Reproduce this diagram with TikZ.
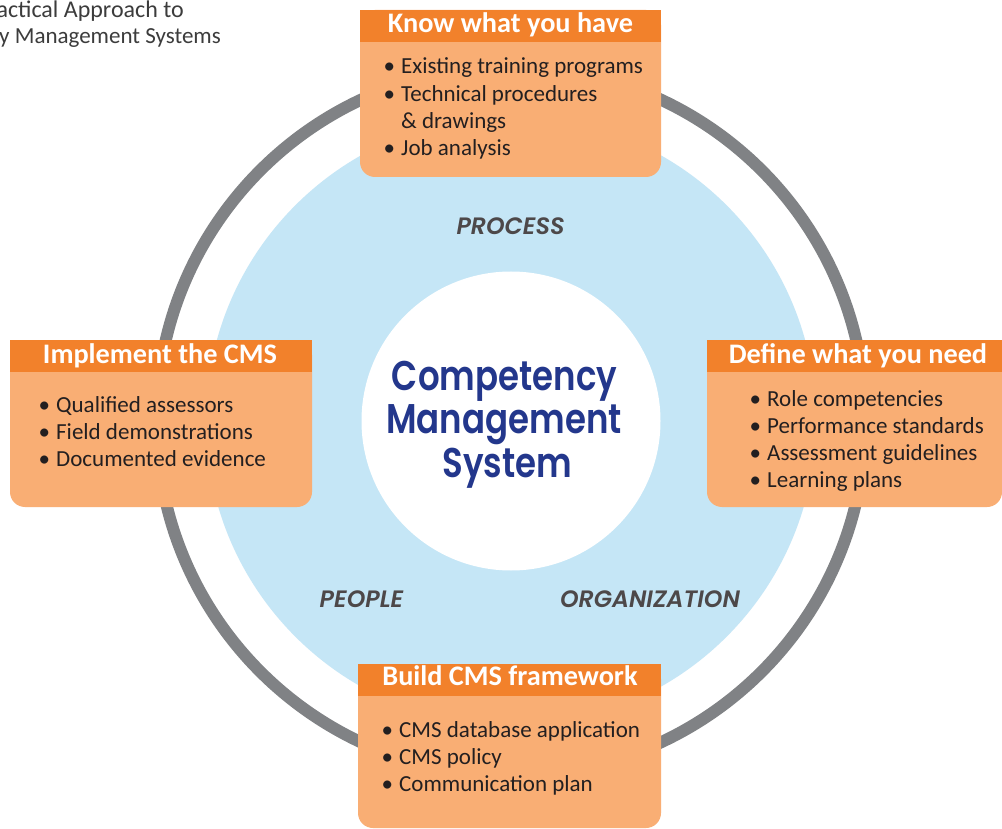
\documentclass[tikz,border=0pt]{standalone}
\usepackage{fontspec}
\setmainfont{Carlito}
\newfontfamily\popsb{Poppins SemiBold}[ItalicFont={Poppins SemiBold Italic}]
\definecolor{headorange}{HTML}{F2812B}
\definecolor{peach}{HTML}{F9AE74}
\definecolor{skyblue}{HTML}{C5E6F6}
\definecolor{ringgray}{HTML}{808285}
\definecolor{navy}{HTML}{23378C}
\definecolor{txt}{HTML}{231F20}
\definecolor{labgray}{HTML}{4D4849}
\definecolor{toptxt}{HTML}{3C3C3C}
\newcommand{\bu}{\makebox[17.5pt][l]{•}}
\begin{document}
\begin{tikzpicture}[x=1pt,y=-1pt,
  head/.style={font=\fontsize{28.3}{30}\selectfont\bfseries, text=white, inner sep=0pt, anchor=base},
  body/.style={font=\fontsize{23}{27.2}\selectfont, text=txt, inner sep=0pt, anchor=base west},
  lab/.style={font=\popsb\itshape\fontsize{23.7}{26}\selectfont, text=labgray, inner sep=0pt, anchor=base},
  cms/.style={font=\popsb\fontsize{34}{40}\selectfont, text=navy, inner sep=0pt, anchor=base},
  corner/.style={font=\fontsize{23}{25}\selectfont, text=toptxt, inner sep=0pt, anchor=base east}]
\useasboundingbox (0,0) rectangle (1002,829);
\fill[white] (0,0) rectangle (1002,829);
% circles
\draw[ringgray, line width=12pt] (511,421) circle[radius=354.5];
\fill[skyblue] (511,421) circle[radius=305];
\fill[white] (511,421) circle[radius=149.5];
% corner text
\node[corner, font=\fontsize{24}{25}\selectfont] (ct1) at (184,18) {actical Approach to};
\node[corner] (ct2) at (221,44) {y Management Systems};
% center text
\node[cms] (c1) at (504.5,390) {\scalebox{1}[1.22]{Competency}};
\node[cms] (c2) at (504,433) {\scalebox{1}[1.22]{Management}};
\node[cms] (c3) at (507.5,477) {\scalebox{1}[1.22]{System}};
% labels
\node[lab] (lp) at (510.5,235) {PROCESS};
\node[lab] (lpe) at (361.5,607) {PEOPLE};
\node[lab] (lo) at (650,607) {ORGANIZATION};
% boxes
\fill[peach, rounded corners=15pt] (360,10) rectangle (661,177);
\fill[headorange] (360,10) rectangle (661,42);
\fill[peach, rounded corners=15pt] (707,340) rectangle (1002,507);
\fill[headorange] (707,340) rectangle (1002,372);
\fill[peach, rounded corners=15pt] (10,340) rectangle (312,507);
\fill[headorange] (10,340) rectangle (312,372);
\fill[peach, rounded corners=15pt] (358,664) rectangle (661,828);
\fill[headorange] (358,664) rectangle (661,696);
% headers
\node[head] (h1) at (510.5,33) {Know what you have};
\node[head] (h2) at (858,363) {Define what you need};
\node[head] (h3) at (160,363) {Implement the CMS};
\node[head] (h4) at (510,685) {Build CMS framework};
% bodies
\node[body] (b1) at (383.5,74) {\begin{tabular}[t]{@{}l@{}l@{}}\bu & Existing training programs\\ \bu & Technical procedures\\ & \& drawings\\ \bu & Job analysis\end{tabular}};
\node[body] (b2) at (749.5,406) {\begin{tabular}[t]{@{}l@{}l@{}}\bu & Role competencies\\ \bu & Performance standards\\ \bu & Assessment guidelines\\ \bu & Learning plans\end{tabular}};
\node[body] (b3) at (38.5,412) {\begin{tabular}[t]{@{}l@{}l@{}}\bu & Qualified assessors\\ \bu & Field demonstrations\\ \bu & Documented evidence\end{tabular}};
\node[body] (b4) at (381.5,737) {\begin{tabular}[t]{@{}l@{}l@{}}\bu & CMS database application\\ \bu & CMS policy\\ \bu & Communication plan\end{tabular}};
\end{tikzpicture}
\end{document}
